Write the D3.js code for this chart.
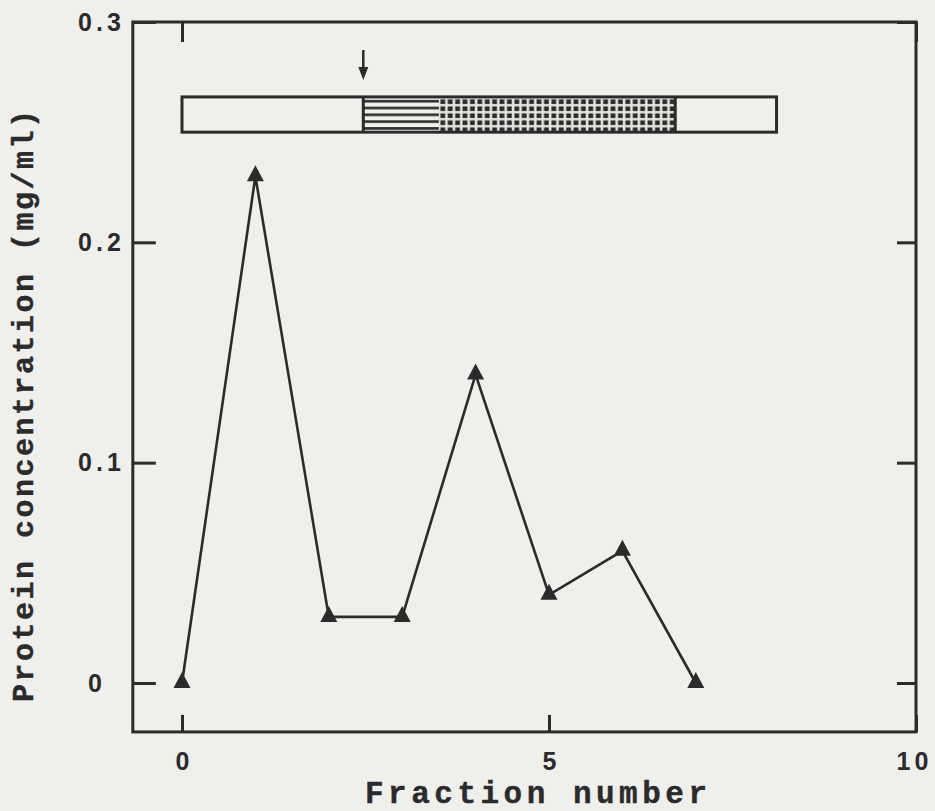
<!DOCTYPE html>
<html>
<head>
<meta charset="utf-8">
<script src="https://cdn.jsdelivr.net/npm/d3@7"></script>
<style>
  html, body { margin: 0; padding: 0; background: #efefec; }
  svg { display: block; }
  .ticklab { font-family: "Liberation Sans", Arial, sans-serif; font-weight: bold; font-size: 25px; }
  .title { font-family: "Liberation Mono", monospace; font-weight: bold; }
</style>
</head>
<body>
<svg id="chart" width="935" height="811"></svg>
<script>
// Protein elution profile
const fractions = [0, 1, 2, 3, 4, 5, 6, 7];
const protein = [0, 0.23, 0.03, 0.03, 0.14, 0.04, 0.06, 0];

const xTicks = [0, 5, 10];
const xTickLabels = ["0", "5", "10"];
const yTicks = [0, 0.1, 0.2, 0.3];
const yTickLabels = ["0", "0.1", "0.2", "0.3"];

// Elution bar above the profile (in fraction units)
const segStart = [0, 2.47, 3.5, 6.72];
const segEnd = [2.47, 3.5, 6.72, 8.1];
const segFill = ["plain", "lines", "dots", "plain"];
const barRange = [0.25, 0.266];
const arrowFraction = 2.47;
const arrowRange = [0.2873, 0.2737];

const xTitle = "Fraction number";
const yTitle = "Protein concentration (mg/ml)";

const ink = "#2b2b2b";
const svg = d3.select("#chart");

const x = d3.scaleLinear().domain([0, 10]).range([182, 916]);
const y = d3.scaleLinear().domain([0, 0.3]).range([683, 22]);
const xMin = -0.67, yMin = -0.0222;

const frameL = x(xMin), frameR = x(10), frameT = y(0.3), frameB = y(yMin);

// hatch patterns for the bar
const defs = svg.append("defs");
const pLines = defs.append("pattern").attr("id", "lines")
  .attr("patternUnits", "userSpaceOnUse")
  .attr("x", 0).attr("y", y(barRange[1]) + 1)
  .attr("width", 8).attr("height", 6.8);
pLines.append("rect").attr("x", 0).attr("y", 2).attr("width", 8).attr("height", 2.6).attr("fill", ink);

const pDots = defs.append("pattern").attr("id", "dots")
  .attr("patternUnits", "userSpaceOnUse")
  .attr("x", x(segStart[2]) + 1).attr("y", y(barRange[1]) + 2)
  .attr("width", 7.4).attr("height", 7.0);
pDots.append("rect").attr("x", 0).attr("y", 0).attr("width", 7.4).attr("height", 7.0).attr("fill", "#e4e4e1");
pDots.append("rect").attr("x", 0.5).attr("y", 0.5).attr("width", 4.8).attr("height", 4.6).attr("fill", ink);

// axes: ticks point inward on all four sides
const axLeft = svg.append("g").attr("transform", `translate(${frameL},0)`)
  .call(d3.axisLeft(y).tickValues(yTicks).tickSize(-23).tickPadding(8)
    .tickFormat((d, i) => yTickLabels[i]));
const axRight = svg.append("g").attr("transform", `translate(${frameR},0)`)
  .call(d3.axisRight(y).tickValues(yTicks).tickSize(-19).tickFormat(""));
const axBottom = svg.append("g").attr("transform", `translate(0,${frameB})`)
  .call(d3.axisBottom(x).tickValues(xTicks).tickSize(-17).tickPadding(20)
    .tickFormat((d, i) => xTickLabels[i]));
const axTop = svg.append("g").attr("transform", `translate(0,${frameT})`)
  .call(d3.axisTop(x).tickValues([0, 10]).tickSize(-20).tickFormat(""));

[axLeft, axRight, axBottom, axTop].forEach(g => {
  g.attr("font-family", null).attr("font-size", null);
  g.select(".domain").remove();
  g.selectAll(".tick line").attr("stroke", ink).attr("stroke-width", 3);
  g.selectAll("text")
    .attr("class", "ticklab")
    .attr("fill", ink)
    .attr("letter-spacing", 4);
});
axLeft.selectAll(".tick text").filter(d => d === 0).attr("dx", -19);
axBottom.selectAll(".tick text").attr("dx", 2);
axBottom.selectAll(".tick text").filter(d => d === 10).attr("dx", -2);

// frame
svg.append("rect")
  .attr("x", frameL).attr("y", frameT)
  .attr("width", frameR - frameL).attr("height", frameB - frameT)
  .attr("fill", "none").attr("stroke", ink).attr("stroke-width", 3);

// elution bar
const bar = svg.append("g");
bar.selectAll("rect.seg").data(segStart).join("rect").attr("class", "seg")
  .attr("x", (d, i) => x(d))
  .attr("y", y(barRange[1]))
  .attr("width", (d, i) => x(segEnd[i]) - x(d))
  .attr("height", y(barRange[0]) - y(barRange[1]))
  .attr("fill", (d, i) => segFill[i] === "plain" ? "none" : `url(#${segFill[i]})`)
  .attr("stroke", "none");
bar.append("rect")
  .attr("x", x(segStart[0])).attr("y", y(barRange[1]))
  .attr("width", x(segEnd[segEnd.length - 1]) - x(segStart[0]))
  .attr("height", y(barRange[0]) - y(barRange[1]))
  .attr("fill", "none").attr("stroke", ink).attr("stroke-width", 3);
bar.selectAll("line.div").data([segStart[1], segEnd[2]]).join("line").attr("class", "div")
  .attr("x1", d => x(d)).attr("x2", d => x(d))
  .attr("y1", y(barRange[1])).attr("y2", y(barRange[0]))
  .attr("stroke", ink).attr("stroke-width", 3);

// arrow marking the start of elution
const ax = x(arrowFraction), ay0 = y(arrowRange[0]), ay1 = y(arrowRange[1]);
svg.append("line").attr("x1", ax).attr("x2", ax).attr("y1", ay0).attr("y2", ay1 - 10)
  .attr("stroke", ink).attr("stroke-width", 2.5);
svg.append("path")
  .attr("d", `M${ax - 5},${ay1 - 13}L${ax + 5},${ay1 - 13}L${ax},${ay1}Z`)
  .attr("fill", ink);

// profile line
const pts = fractions.map((f, i) => [f, protein[i]]);
svg.append("path").datum(pts)
  .attr("d", d3.line().x(d => x(d[0])).y(d => y(d[1])))
  .attr("fill", "none").attr("stroke", ink).attr("stroke-width", 2.6)
  .attr("stroke-linejoin", "miter");

// triangle markers
svg.selectAll("path.mark").data(pts).join("path").attr("class", "mark")
  .attr("transform", d => `translate(${x(d[0])},${y(d[1])})`)
  .attr("d", "M0,-11L8.5,5L-8.5,5Z")
  .attr("fill", ink);

// axis titles
svg.append("text")
  .attr("class", "title")
  .attr("x", 536).attr("y", 803)
  .attr("text-anchor", "middle")
  .style("font-size", "31px")
  .attr("textLength", 342).attr("lengthAdjust", "spacing")
  .attr("fill", ink)
  .attr("stroke", ink).attr("stroke-width", 0.4)
  .text(xTitle);

svg.append("text")
  .attr("class", "title")
  .attr("transform", "translate(33,406) rotate(-90)")
  .attr("text-anchor", "middle")
  .style("font-size", "30px")
  .attr("textLength", 592).attr("lengthAdjust", "spacing")
  .attr("fill", ink)
  .attr("stroke", ink).attr("stroke-width", 0.4)
  .text(yTitle);
</script>
</body>
</html>
